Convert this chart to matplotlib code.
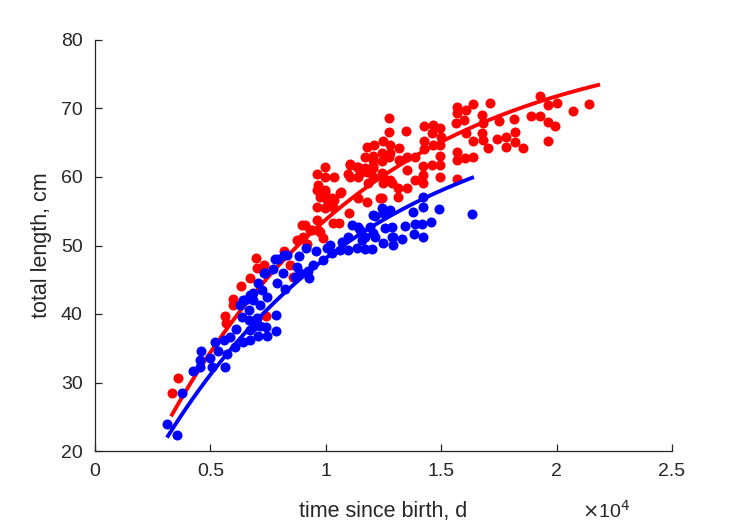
import numpy as np
import matplotlib
matplotlib.use('Agg')
import matplotlib.pyplot as plt
from matplotlib.ticker import FuncFormatter, MultipleLocator

plt.rcParams['font.family'] = ['Liberation Sans', 'DejaVu Sans']

red_t = [3336, 3596, 6976, 7323, 7020, 6716, 6326, 5980, 5980, 5633, 5676, 7410,
         8189, 8450, 8580, 8753, 9186, 9403, 9750, 9880, 8970, 9620, 9620, 9750,
         9970, 10050, 10360, 10310, 9660, 9620, 9970, 9970, 10360, 10570, 10310,
         10620, 11010, 10960, 11050, 11400, 11790, 11400, 11480, 11790, 11830,
         12050, 12050, 11700, 12050, 11790, 12090, 12480, 12440, 12480, 12480,
         12440, 12740, 12740, 12740, 13480, 14260, 14650, 14950, 14600, 14260,
         14990, 14650, 15690, 15690, 16080, 16380, 17120, 15640, 15990, 16770,
         16810, 17510, 18160, 19280, 19630, 20020, 20710, 21410, 18890, 19280,
         19630, 19930, 19630, 16080, 16380, 16770, 16810, 17030, 17420, 17810,
         17810, 18200, 18200, 18550, 15690, 15690, 16030, 16380, 15690, 14260,
         14950, 14950, 14600, 14950, 14950, 14210, 14210, 13870, 13520, 13170,
         12780, 12440, 12780, 13170, 13520, 13870, 14210, 13520, 13130, 13130,
         12780, 12440, 12050, 12050, 11700, 11050, 11350, 11400, 11050, 10660,
         9970, 9620, 10270, 9970, 9100, 9320, 9010, 9660, 12350, 12870]
red_L = [28.5, 30.7, 48.2, 47.2, 46.7, 45.3, 44.1, 42.2, 41.3, 39.7, 38.7, 39.7,
         49.2, 47.2, 45.4, 50.8, 50.2, 52.3, 52.0, 51.1, 53.0, 53.7, 55.6, 57.1,
         57.8, 56.6, 56.6, 55.6, 58.8, 60.4, 61.5, 60.0, 60.0, 53.3, 53.3,
         57.7, 54.7, 60.4, 61.9, 56.9, 56.4, 61.5, 60.6, 60.7, 59.1,
         61.6, 60.0, 62.9, 63.1, 64.4, 64.7, 65.3, 62.3, 60.0, 59.1,
         56.9, 68.6, 66.6, 62.9, 66.7, 67.5, 67.6, 67.2, 66.4, 65.3,
         65.8, 64.7, 70.2, 69.3, 69.8, 70.7, 70.8, 67.9, 68.3, 69.1,
         67.9, 68.2, 68.5, 71.8, 70.5, 70.8, 69.6, 70.7, 68.9, 68.9,
         68.0, 67.4, 65.3, 66.4, 65.3, 66.4, 65.4, 64.2, 65.6, 65.9,
         64.4, 66.6, 65.1, 64.2, 63.7, 62.5, 62.8, 62.9, 59.7, 64.1,
         64.7, 63.1, 61.8, 61.8, 60.0, 61.6, 60.3, 62.9, 62.9, 64.2,
         64.7, 63.5, 63.5, 62.5, 61.0, 59.6, 59.1, 58.4, 58.4, 57.1,
         59.6, 60.6, 62.5, 61.3, 61.3, 61.8, 61.5, 60.0, 60.0, 57.8,
         58.1, 58.1, 57.0, 55.5, 53.0, 52.3, 51.3, 52.3, 56.9, 59.1]

blue_t = [3120, 3550, 3770, 4250, 4550, 4590, 4550, 4980, 5070, 5200, 5330, 5590,
          5720, 5630, 5850, 6110, 6070, 6410, 6720, 6720, 6370, 6280, 6410, 6670,
          6670, 6850, 7060, 7150, 7410, 7450, 7840, 7840, 7020, 6720, 6850, 7060,
          7320, 7710, 7930, 8190, 8150, 8230, 7890, 7450, 7150, 6850, 8750, 8840,
          9140, 9270, 9230, 9580, 9880, 10180, 10270, 10700, 10960, 11140, 11480,
          12130, 12480, 12780, 10050, 10620, 10960, 11350, 11700, 12000, 12480,
          12910, 12050, 12570, 11570, 9450, 8880, 8320, 8670, 14210, 14210, 13780,
          14910, 16340, 14560, 14170, 13870, 13430, 13820, 14210, 13300, 12870,
          12870, 12910, 12440, 12050, 11700, 12130, 11400, 11920, 7800, 7370,
          6500, 7240]
blue_L = [23.9, 22.3, 28.5, 31.7, 32.3, 34.6, 33.3, 33.6, 32.3, 35.9, 34.6, 36.2,
          34.2, 32.3, 36.7, 37.8, 35.2, 35.9, 36.2, 37.7, 39.5, 41.3, 42.1, 40.6,
          39.1, 38.1, 36.8, 38.3, 38.1, 36.8, 37.5, 39.9, 39.4, 42.8, 43.1, 44.5,
          46.0, 46.6, 48.0, 48.6, 46.0, 43.7, 44.5, 42.5, 41.3, 42.1, 46.9, 48.5,
          49.7, 45.3, 46.3, 49.2, 47.9, 50.1, 48.9, 50.5, 51.3, 53.0, 52.3,
          54.3, 54.8, 55.2, 49.6, 49.3, 49.3, 49.6, 49.5, 49.5, 50.4,
          51.3, 51.8, 52.6, 50.8, 47.2, 46.0, 48.6, 45.4, 57.1, 55.6, 54.9,
          55.3, 54.6, 53.4, 53.2, 53.2, 52.9, 51.7, 51.2, 51.0, 52.7,
          51.2, 50.1, 55.5, 54.5, 51.3, 51.3, 52.7, 52.7, 48.0, 46.0,
          42.1, 43.5]

# von Bertalanffy fits: L(t) = Linf * (1 - exp(-k (t - t0)))
red_fit = dict(Linf=81.2, k=1.069e-4, t0=-157, t_start=3336, t_end=21800)
blue_fit = dict(Linf=71.8, k=1.083e-4, t0=-253, t_start=3163, t_end=16335)


def vb_curve(p):
    t = np.linspace(p['t_start'], p['t_end'], 200)
    return t, p['Linf'] * (1 - np.exp(-p['k'] * (t - p['t0'])))


fig = plt.figure(figsize=(7.29, 5.21), dpi=100)
ax = fig.add_axes([95 / 729, 70 / 521, 577 / 729, 411 / 521])

ink = '#262626'
ax.scatter(red_t, red_L, s=52, c='#ff0000', linewidths=0, zorder=2)
t, L = vb_curve(red_fit)
ax.plot(t, L, color='#ff0000', lw=2.8, zorder=3)
ax.scatter(blue_t, blue_L, s=52, c='#0000ff', linewidths=0, zorder=4)
t, L = vb_curve(blue_fit)
ax.plot(t, L, color='#0000ff', lw=2.8, zorder=5)

ax.set_xlim(0, 25000)
ax.set_ylim(20, 80)
ax.xaxis.set_major_locator(MultipleLocator(5000))
ax.yaxis.set_major_locator(MultipleLocator(10))
ax.xaxis.set_major_formatter(FuncFormatter(lambda v, _: f'{v / 1e4:g}'))

for side in ('top', 'right'):
    ax.spines[side].set_visible(False)
for side in ('left', 'bottom'):
    ax.spines[side].set_color(ink)
    ax.spines[side].set_linewidth(0.9)
ax.tick_params(direction='in', length=5, width=0.9, colors=ink, labelsize=14, pad=9)

ax.set_xlabel('time since birth, d', fontsize=15.5, color=ink, labelpad=15)
ax.set_ylabel('total length, cm', fontsize=15.5, color=ink, labelpad=6)
fig.text(630 / 729, 3 / 521, r'$\times$10$^{4}$', fontsize=14, color=ink,
         ha='right', va='baseline')

fig.savefig('out.png', dpi=100)
